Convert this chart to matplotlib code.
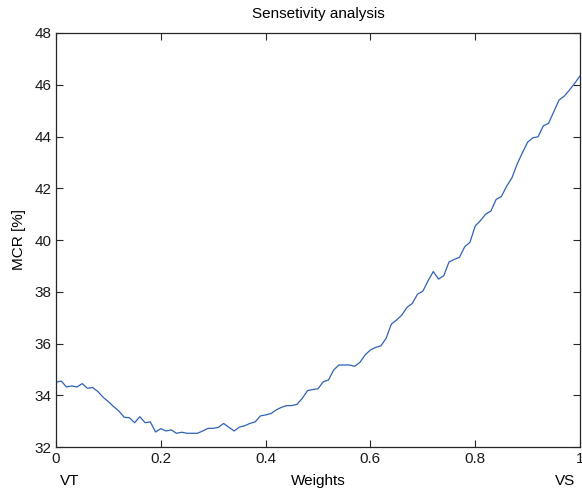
import matplotlib
matplotlib.use("Agg")
import matplotlib.pyplot as plt
import numpy as np

plt.rcParams['font.family'] = ['Liberation Sans', 'DejaVu Sans']
plt.rcParams['font.size'] = 11

# weights from 0 (VT) to 1 (VS), step 0.01
weights = np.linspace(0, 1, 101)
mcr = [
    34.50, 34.55, 34.32, 34.36, 34.32, 34.45, 34.27, 34.30, 34.14, 33.92,
    33.75, 33.56, 33.39, 33.15, 33.13, 32.94, 33.17, 32.94, 32.97, 32.58,
    32.71, 32.62, 32.66, 32.53, 32.57, 32.53, 32.53, 32.53, 32.62, 32.72,
    32.72, 32.76, 32.91, 32.76, 32.62, 32.77, 32.82, 32.91, 32.97, 33.20,
    33.24, 33.29, 33.43, 33.53, 33.60, 33.60, 33.65, 33.88, 34.18, 34.22,
    34.25, 34.52, 34.59, 34.98, 35.17, 35.17, 35.17, 35.12, 35.27, 35.56,
    35.75, 35.85, 35.91, 36.20, 36.75, 36.91, 37.10, 37.40, 37.55, 37.91,
    38.02, 38.42, 38.78, 38.49, 38.62, 39.15, 39.25, 39.33, 39.74, 39.91,
    40.54, 40.75, 41.00, 41.12, 41.57, 41.68, 42.08, 42.40, 42.93, 43.37,
    43.78, 43.95, 43.99, 44.41, 44.51, 44.96, 45.41, 45.56, 45.80, 46.06,
    46.34,
]

xticks = [0, 0.2, 0.4, 0.6, 0.8, 1]
xticklabels = ['0', '0.2', '0.4', '0.6', '0.8', '1']
yticks = [32, 34, 36, 38, 40, 42, 44, 46, 48]

fig = plt.figure(figsize=(5.82, 4.90), dpi=100)
ax = fig.add_axes([56 / 582, 43 / 490, 524 / 582, 414 / 490])

ax.plot(weights, mcr, color='#2e62b8', linewidth=0.9)

ax.set_xlim(0, 1)
ax.set_ylim(32, 48)
ax.set_xticks(xticks)
ax.set_xticklabels(xticklabels)
ax.set_yticks(yticks)
ax.tick_params(direction='in', length=5, width=0.8, top=True, right=True,
               colors='#262626', labelcolor='#1a1a1a', labelsize=11, pad=3.5)
for s in ax.spines.values():
    s.set_color('#262626')
    s.set_linewidth(0.9)

fig.text(318 / 582, 1 - 14 / 490, 'Sensetivity analysis', ha='center', va='center')
fig.text(19 / 582, 1 - 240 / 490, 'MCR [%]', ha='center', va='center', rotation=90)
fig.text(318 / 582, 1 - 481 / 490, 'Weights', ha='center', va='center')
fig.text(70 / 582, 1 - 481 / 490, 'VT', ha='center', va='center')
fig.text(565 / 582, 1 - 481 / 490, 'VS', ha='center', va='center')

fig.savefig('out.png', dpi=100)
